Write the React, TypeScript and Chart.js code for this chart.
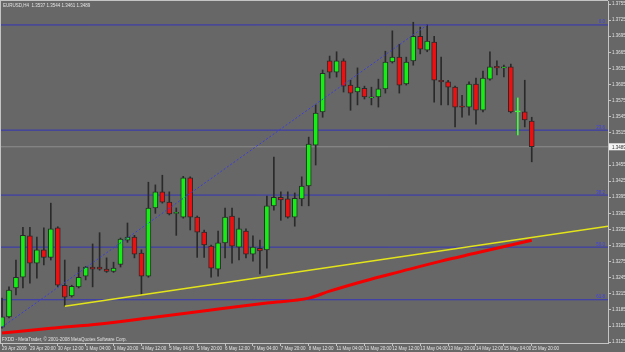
import React, { useEffect, useRef } from "react";
import { Chart, registerables } from "chart.js";

Chart.register(...registerables);

const SYMBOL = "EURUSD,H4";
const COPYRIGHT = "FXDD - MetaTrader, © 2001-2008 MetaQuotes Software Corp.";

// H4 candles, 29 Apr 2009 .. 15 May 2009 20:00
const OPEN = [
  1.3153, 1.3172, 1.3226, 1.3246, 1.3323, 1.3272, 1.3297, 1.3283, 1.3338, 1.3231,
  1.3211, 1.3228, 1.3248, 1.3265, 1.3265, 1.3261, 1.3257, 1.3270, 1.3315, 1.3321,
  1.3291, 1.3248, 1.3375, 1.3405, 1.3386, 1.3365, 1.3358, 1.3431, 1.3358, 1.3330,
  1.3304, 1.3261, 1.3310, 1.3360, 1.3302, 1.3332, 1.3289, 1.3300, 1.3297, 1.3379,
  1.3395, 1.3392, 1.3358, 1.3392, 1.3416, 1.3492, 1.3554, 1.3649, 1.3628, 1.3649,
  1.3604, 1.3591, 1.3598, 1.3580, 1.3582, 1.3597, 1.3647, 1.3656, 1.3606, 1.3649,
  1.3695, 1.3669, 1.3684, 1.3613, 1.3610, 1.3600, 1.3565, 1.3563, 1.3606, 1.3557,
  1.3615, 1.3639, 1.3636, 1.3638, 1.3554, 1.3554, 1.3537,
];
const HIGH = [
  1.3207, 1.3228, 1.3278, 1.3339, 1.3339, 1.3321, 1.3338, 1.3384, 1.3340, 1.3278,
  1.3231, 1.3265, 1.3266, 1.3308, 1.3329, 1.3282, 1.3274, 1.3319, 1.3347, 1.3324,
  1.3297, 1.3423, 1.3418, 1.3436, 1.3405, 1.3375, 1.3434, 1.3433, 1.3360, 1.3334,
  1.3306, 1.3332, 1.3375, 1.3375, 1.3356, 1.3336, 1.3323, 1.3315, 1.3397, 1.3470,
  1.3405, 1.3405, 1.3403, 1.3433, 1.3507, 1.3567, 1.3632, 1.3658, 1.3666, 1.3653,
  1.3613, 1.3636, 1.3602, 1.3600, 1.3615, 1.3667, 1.3705, 1.3680, 1.3656, 1.3721,
  1.3712, 1.3716, 1.3695, 1.3656, 1.3613, 1.3602, 1.3585, 1.3610, 1.3617, 1.3630,
  1.3666, 1.3649, 1.3641, 1.3643, 1.3580, 1.3613, 1.3544,
];
const LOW = [
  1.3151, 1.3170, 1.3213, 1.3226, 1.3235, 1.3244, 1.3269, 1.3278, 1.3228, 1.3192,
  1.3209, 1.3226, 1.3241, 1.3228, 1.3259, 1.3255, 1.3255, 1.3265, 1.3311, 1.3282,
  1.3213, 1.3246, 1.3365, 1.3384, 1.3362, 1.3324, 1.3356, 1.3334, 1.3283, 1.3283,
  1.3246, 1.3248, 1.3282, 1.3272, 1.3278, 1.3282, 1.3276, 1.3252, 1.3263, 1.3371,
  1.3352, 1.3356, 1.3341, 1.3379, 1.3379, 1.3455, 1.3544, 1.3617, 1.3619, 1.3591,
  1.3557, 1.3567, 1.3578, 1.3567, 1.3563, 1.3589, 1.3645, 1.3589, 1.3604, 1.3641,
  1.3662, 1.3666, 1.3572, 1.3567, 1.3567, 1.3526, 1.3544, 1.3548, 1.3531, 1.3554,
  1.3613, 1.3623, 1.3619, 1.3552, 1.3511, 1.3526, 1.3461,
];
const CLOSE = [
  1.3172, 1.3222, 1.3246, 1.3324, 1.3272, 1.3297, 1.3283, 1.3336, 1.3231, 1.3209,
  1.3229, 1.3246, 1.3265, 1.3261, 1.3261, 1.3257, 1.3263, 1.3317, 1.3321, 1.3289,
  1.3248, 1.3375, 1.3405, 1.3386, 1.3364, 1.3367, 1.3431, 1.3358, 1.3330, 1.3306,
  1.3263, 1.3310, 1.3358, 1.3304, 1.3336, 1.3289, 1.3302, 1.3295, 1.3379, 1.3395,
  1.3390, 1.3358, 1.3393, 1.3416, 1.3494, 1.3552, 1.3626, 1.3628, 1.3649, 1.3602,
  1.3589, 1.3600, 1.3582, 1.3582, 1.3597, 1.3647, 1.3656, 1.3604, 1.3647, 1.3695,
  1.3671, 1.3686, 1.3613, 1.3610, 1.3600, 1.3563, 1.3563, 1.3606, 1.3557, 1.3617,
  1.3638, 1.3636, 1.3638, 1.3554, 1.3554, 1.3539, 1.3489,
];

// Moving average (red), read at selected bars
const MA_BAR = [0, 7, 14, 21, 30, 38, 44, 47, 52, 57, 63, 68, 76];
const MA_VALUE = [1.3142, 1.3151, 1.3159, 1.3170, 1.3185, 1.3198, 1.3207, 1.3220, 1.3239, 1.3256, 1.3276, 1.3291, 1.3315];

// Yellow trend line
const TREND_BAR = [9, 86.94];
const TREND_VALUE = [1.3192, 1.3341];

// Blue dotted fibo anchor line
const ANCHOR_BAR = [0, 61];
const ANCHOR_VALUE = [1.3153, 1.3716];

// Fibonacci levels
const FIB_LEVELS = [1.3716, 1.352, 1.3399, 1.3302, 1.3204];
const FIB_LABELS = ["0.0", "23.6", "38.2", "50.0", "61.8"];

// Axis ticks
const PRICE_TICKS = [
  1.3755, 1.3725, 1.3695, 1.3665, 1.3635, 1.3605, 1.3575, 1.3545, 1.3515, 1.3485, 1.3455,
  1.3425, 1.3395, 1.3365, 1.3335, 1.3305, 1.3275, 1.3245, 1.3215, 1.3185, 1.3155, 1.3125,
];
const TIME_LABELS = [
  "29 Apr 2009", "29 Apr 20:00", "30 Apr 12:00", "1 May 04:00", "1 May 20:00",
  "4 May 12:00", "5 May 04:00", "5 May 20:00", "6 May 12:00", "7 May 04:00",
  "7 May 20:00", "8 May 12:00", "11 May 04:00", "11 May 20:00", "12 May 12:00",
  "13 May 04:00", "13 May 20:00", "14 May 12:00", "15 May 04:00", "15 May 20:00",
];
const TIME_STEP = 4;

const X_MIN = -0.29;
const X_MAX = 86.94;
const Y_MIN = 1.312344;
const Y_MAX = 1.376059;

const FONT = "'Liberation Sans', Arial, sans-serif";
const FS = 4.5;
const BG = "#676767";
const AXIS = "#c4c4c4";
const TEXT = "#e2e2e2";
const BULL = "#14f014";
const BEAR = "#ee1010";
const WICK = "#2a2a2a";
const DOJI = "#3cff3c";
const FIB_COLOR = "#3434b8";

const overlay = {
  id: "overlay",
  beforeDraw(chart: any) {
    const ctx = chart.ctx;
    ctx.save();
    ctx.fillStyle = BG;
    ctx.fillRect(0, 0, chart.width, chart.height);
    ctx.restore();
  },
  afterDraw(chart: any) {
    const { ctx, chartArea } = chart;
    const y = chart.scales.y;
    ctx.save();
    // frame top & left
    ctx.strokeStyle = AXIS;
    ctx.lineWidth = 1;
    ctx.beginPath();
    ctx.moveTo(0, 0.5);
    ctx.lineTo(chartArea.right, 0.5);
    ctx.moveTo(0.5, 0);
    ctx.lineTo(0.5, chartArea.bottom);
    ctx.stroke();

    ctx.font = `${FS}px ${FONT}`;
    // fib labels
    ctx.fillStyle = "#3c3cf0";
    ctx.textAlign = "right";
    ctx.textBaseline = "bottom";
    FIB_LEVELS.forEach((v, k) => {
      ctx.fillText(FIB_LABELS[k], chartArea.right - 3, y.getPixelForValue(v) - 0.5);
    });

    // current price box
    const last = CLOSE.length - 1;
    const py = y.getPixelForValue(CLOSE[last]);
    ctx.fillStyle = "#f4f4f4";
    ctx.fillRect(chartArea.right + 1, py - 3.5, 16, 7);
    ctx.fillStyle = "#333";
    ctx.textAlign = "left";
    ctx.textBaseline = "middle";
    ctx.fillText(CLOSE[last].toFixed(4), chartArea.right + 4, py + 0.5);

    // title
    ctx.fillStyle = TEXT;
    ctx.textBaseline = "alphabetic";
    const title = `${SYMBOL}  ${OPEN[last].toFixed(4)} ${HIGH[last].toFixed(4)} ${LOW[last].toFixed(4)} ${CLOSE[last].toFixed(4)}`;
    ctx.fillText(title, 3, 7);
    // copyright
    ctx.fillText(COPYRIGHT, 2, chartArea.bottom - 2);
    ctx.restore();
  },
};

export default function App() {
  const ref = useRef<HTMLCanvasElement>(null);

  useEffect(() => {
    document.body.style.margin = "0";
    const idx = OPEN.map((_, i) => i);
    const isDoji = idx.map((i) => OPEN[i] === CLOSE[i]);
    const isBull = idx.map((i) => CLOSE[i] >= OPEN[i]);

    const hLine = (v: number, color: string, order: number) => ({
      type: "line" as const,
      data: [
        { x: X_MIN, y: v },
        { x: X_MAX, y: v },
      ],
      borderColor: color,
      borderWidth: 1,
      pointRadius: 0,
      fill: false,
      order,
    });

    const datasets: any[] = [
      ...FIB_LEVELS.map((v) => hLine(v, FIB_COLOR, 10)),
      hLine(CLOSE[CLOSE.length - 1], "#8e8e8e", 9),
      {
        type: "bar",
        data: idx.map((i) => ({ x: i, y: [LOW[i], HIGH[i]] })),
        backgroundColor: idx.map((i) => (isDoji[i] ? DOJI : WICK)),
        borderWidth: 0,
        barThickness: 1,
        grouped: false,
        order: 5,
      },
      {
        type: "bar",
        data: idx.map((i) => ({ x: i, y: [OPEN[i], CLOSE[i]] })),
        backgroundColor: idx.map((i) => (isDoji[i] ? DOJI : isBull[i] ? BULL : BEAR)),
        borderColor: idx.map((i) => (isDoji[i] ? DOJI : WICK)),
        borderWidth: 1,
        borderSkipped: false,
        barThickness: 5,
        minBarLength: 1,
        grouped: false,
        order: 4,
      },
      {
        type: "line",
        data: MA_BAR.map((b, k) => ({ x: b, y: MA_VALUE[k] })),
        borderColor: "#f20000",
        borderWidth: 3,
        pointRadius: 0,
        cubicInterpolationMode: "monotone",
        fill: false,
        order: 3,
      },
      {
        type: "line",
        data: TREND_BAR.map((b, k) => ({ x: b, y: TREND_VALUE[k] })),
        borderColor: "#e4e41a",
        borderWidth: 1.6,
        pointRadius: 0,
        fill: false,
        order: 2,
      },
      {
        type: "line",
        data: ANCHOR_BAR.map((b, k) => ({ x: b, y: ANCHOR_VALUE[k] })),
        borderColor: "#3c3cd8",
        borderWidth: 1,
        borderDash: [2, 2],
        pointRadius: 0,
        fill: false,
        order: 1,
      },
    ];

    const chart = new Chart(ref.current as HTMLCanvasElement, {
      type: "bar",
      data: { datasets },
      options: {
        animation: false,
        responsive: false,
        devicePixelRatio: 1,
        events: [],
        layout: { padding: { top: 1, left: 0, right: 0, bottom: 0 } },
        plugins: {
          legend: { display: false },
          tooltip: { enabled: false },
          title: { display: false },
        },
        scales: {
          x: {
            type: "linear",
            position: "bottom",
            min: X_MIN,
            max: X_MAX,
            offset: false,
            afterBuildTicks: (s: any) => {
              s.ticks = TIME_LABELS.map((_, k) => ({ value: k * TIME_STEP }));
            },
            afterFit: (s: any) => {
              s.height = 9;
              s.paddingLeft = 0;
              s.paddingRight = 0;
            },
            ticks: {
              autoSkip: false,
              maxRotation: 0,
              minRotation: 0,
              align: "start",
              padding: 0,
              color: TEXT,
              font: { size: FS, family: FONT },
              callback: (v: any) => TIME_LABELS[Math.round(Number(v) / TIME_STEP)] ?? "",
            },
            grid: { drawOnChartArea: false, drawTicks: true, tickLength: 3, color: AXIS, offset: false },
            border: { display: true, color: AXIS, width: 1 },
          },
          y: {
            type: "linear",
            position: "right",
            min: Y_MIN,
            max: Y_MAX,
            afterBuildTicks: (s: any) => {
              s.ticks = PRICE_TICKS.map((v) => ({ value: v }));
            },
            afterFit: (s: any) => {
              s.width = 17;
              s.paddingTop = 0;
              s.paddingBottom = 0;
            },
            ticks: {
              autoSkip: false,
              padding: 1,
              color: TEXT,
              font: { size: FS, family: FONT },
              callback: (v: any) => Number(v).toFixed(4),
            },
            grid: { drawOnChartArea: false, drawTicks: true, tickLength: 3, color: AXIS },
            border: { display: true, color: AXIS, width: 1 },
          },
        },
      } as any,
      plugins: [overlay],
    });
    return () => chart.destroy();
  }, []);

  return (
    <div style={{ position: "absolute", left: 0, top: 0, width: 625, height: 352 }}>
      <canvas ref={ref} width={625} height={352} style={{ display: "block" }} />
    </div>
  );
}
